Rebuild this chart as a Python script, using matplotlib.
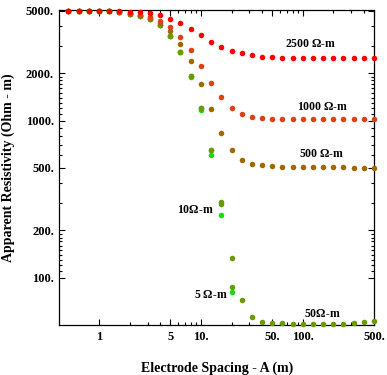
"""Wenner apparent resistivity curves, two-layer earth (5000 Ohm-m on top)."""

import matplotlib

matplotlib.use("Agg")
import matplotlib.pyplot as plt
from matplotlib.ticker import FixedLocator, FixedFormatter, NullFormatter

# electrode spacing A (m)
spacing = [0.5, 0.63, 0.79, 1.0, 1.26, 1.58, 2.0, 2.51, 3.16, 3.98, 5.01,
           6.31, 7.94, 10.0, 12.6, 15.8, 20.0, 25.1, 31.6, 39.8, 50.1,
           63.1, 79.4, 100, 126, 158, 200, 251, 316, 398, 501]

# apparent resistivity (Ohm-m) for each lower-layer resistivity
rho_2500 = [5000, 5000, 5000, 5000, 5000, 5000, 4880, 4880, 4810, 4660, 4410,
            4160, 3810, 3490, 3150, 2930, 2760, 2680, 2600, 2550, 2550,
            2510, 2510, 2510, 2510, 2510, 2510, 2510, 2510, 2510, 2510]
rho_1000 = [5000, 5000, 5000, 5000, 4950, 4900, 4800, 4700, 4540, 4320, 3920,
            3390, 2800, 2220, 1730, 1410, 1200, 1100, 1050, 1037, 1030,
            1020, 1020, 1020, 1020, 1020, 1020, 1020, 1020, 1020, 1020]
rho_500 = [5000, 5000, 5000, 5000, 4950, 4900, 4780, 4660, 4480, 4190, 3700,
           3060, 2390, 1700, 1180, 833, 650, 560, 528, 523, 515,
           505, 505, 505, 505, 505, 505, 505, 500, 500, 500]
rho_50 = [5000, 5000, 5000, 5000, 4950, 4900, 4760, 4640, 4410, 4060, 3440,
          2720, 1930, 1210, 650, 303, 134, 72, 56, 52, 51.2,
          51.2, 50.7, 50.7, 50.7, 50.7, 50.7, 50.9, 51.2, 52, 53]
# the 5 and 10 Ohm-m curves leave the plot range after A = 20 m
rho_10 = [5000, 5000, 5000, 5000, 4950, 4900, 4760, 4640, 4410, 4060, 3440,
          2720, 1930, 1210, 650, 295, 87]
rho_5 = [5000, 5000, 5000, 5000, 4950, 4900, 4760, 4640, 4410, 4060, 3440,
         2710, 1900, 1160, 600, 251, 81]

series = [
    (rho_5, "#12dc12"),
    (rho_10, "#62a000"),
    (rho_50, "#6a9a00"),
    (rho_500, "#a06800"),
    (rho_1000, "#dc4218"),
    (rho_2500, "#ff0000"),
]

labels = [
    ("2500 $\\Omega$-m", 120, 3070),
    ("1000 $\\Omega$-m", 157, 1220),
    ("500 $\\Omega$-m", 154, 614),
    ("10$\\Omega$-m", 8.9, 268),
    ("5 $\\Omega$-m", 12.5, 78),
    ("50$\\Omega$-m", 154, 59),
]

x_major = [1, 5, 10, 50, 100, 500]
x_major_labels = ["1", "5", "10.", "50.", "100.", "500."]
x_minor = [2, 3, 4, 6, 7, 8, 9, 20, 30, 40, 60, 70, 80, 90, 200, 300, 400]
y_major = [100, 200, 500, 1000, 2000, 5000]
y_major_labels = ["100.", "200.", "500.", "1000.", "2000.", "5000."]
y_minor = [110, 120, 130, 140, 150, 160, 170, 180, 190, 300, 400,
           600, 700, 800, 900, 1100, 1200, 1300, 1400, 1500, 1600, 1700,
           1800, 1900, 3000, 4000]

plt.rcParams["font.family"] = "Liberation Serif"
plt.rcParams["font.weight"] = "bold"
plt.rcParams["mathtext.fontset"] = "custom"
plt.rcParams["mathtext.rm"] = "Liberation Serif:bold"
plt.rcParams["mathtext.it"] = "Liberation Serif:bold"

fig = plt.figure(figsize=(3.87, 3.75), dpi=100)
ax = fig.add_axes([59.5 / 387, 50 / 375, 314.5 / 387, 315 / 375])

for vals, color in series:
    ax.scatter(spacing[:len(vals)], vals, s=16, color=color, linewidths=0,
               clip_on=False, zorder=3)

for text, x, y in labels:
    ax.text(x, y, text, ha="center", va="center", fontsize=8.5,
            fontweight="bold")

ax.set_xscale("log")
ax.set_yscale("log")
ax.set_xlim(0.41, 500)
ax.set_ylim(50, 5050)

ax.xaxis.set_major_locator(FixedLocator(x_major))
ax.xaxis.set_major_formatter(FixedFormatter(x_major_labels))
ax.xaxis.set_minor_locator(FixedLocator(x_minor))
ax.xaxis.set_minor_formatter(NullFormatter())
ax.yaxis.set_major_locator(FixedLocator(y_major))
ax.yaxis.set_major_formatter(FixedFormatter(y_major_labels))
ax.yaxis.set_minor_locator(FixedLocator(y_minor))
ax.yaxis.set_minor_formatter(NullFormatter())

ax.tick_params(which="both", direction="in", top=True, right=True,
               labelsize=9, width=0.8, colors="black")
ax.tick_params(which="major", length=4, pad=4)
ax.tick_params(which="minor", length=2)
for spine in ax.spines.values():
    spine.set_linewidth(0.9)

ax.set_xlabel("Electrode Spacing - A (m)", fontsize=10, fontweight="bold",
              labelpad=14)
ax.set_ylabel("Apparent Resistivity (Ohm - m)", fontsize=10,
              fontweight="bold", labelpad=8)

fig.savefig("out.png", dpi=100)
